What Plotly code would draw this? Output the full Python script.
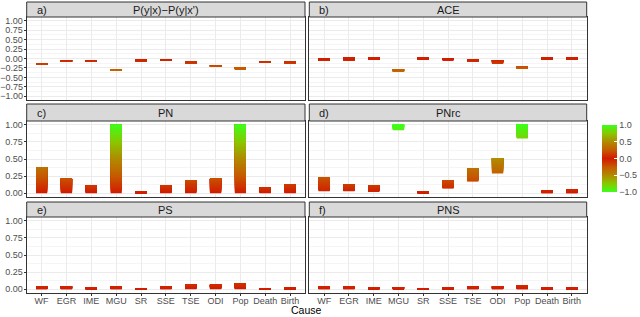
import plotly.graph_objects as go

causes = ["WF", "EGR", "IME", "MGU", "SR", "SSE", "TSE", "ODI", "Pop", "Death", "Birth"]

# Panel a) P(y|x)-P(y|x') : interval low / high
a_lo = [-0.17, -0.09, -0.09, -0.33, -0.07, -0.05, -0.13, -0.22, -0.28, -0.11, -0.13]
a_hi = [-0.13, -0.05, -0.05, -0.29, -0.03, -0.02, -0.09, -0.18, -0.24, -0.07, -0.09]
# Panel b) ACE
b_lo = [-0.06, -0.06, -0.04, -0.34, -0.03, -0.04, -0.08, -0.14, -0.26, -0.03, -0.03]
b_hi = [-0.01, 0.03, 0.02, -0.30, 0.02, 0.01, -0.03, -0.04, -0.21, 0.02, 0.02]
# Panel c) PN
c_lo = [0.0] * 11
c_hi = [0.38, 0.21, 0.11, 1.00, 0.03, 0.12, 0.19, 0.21, 1.00, 0.08, 0.13]
# Panel d) PNrc
d_lo = [0.03, 0.03, 0.02, 0.92, 0.00, 0.07, 0.17, 0.29, 0.80, 0.00, 0.00]
d_hi = [0.23, 0.13, 0.12, 1.00, 0.03, 0.19, 0.36, 0.51, 1.00, 0.04, 0.05]
# Panel e) PS
e_lo = [0.0] * 11
e_hi = [0.04, 0.04, 0.03, 0.04, 0.01, 0.04, 0.065, 0.065, 0.085, 0.01, 0.02]
# Panel f) PNS
f_lo = [0.0] * 11
f_hi = [0.04, 0.04, 0.03, 0.03, 0.01, 0.03, 0.04, 0.04, 0.06, 0.02, 0.02]

panel_tags = ["a)", "b)", "c)", "d)", "e)", "f)"]
panel_titles = ["P(y|x)\u2212P(y|x')", "ACE", "PN", "PNrc", "PS", "PNS"]
panels = [(a_lo, a_hi), (b_lo, b_hi), (c_lo, c_hi), (d_lo, d_hi), (e_lo, e_hi), (f_lo, f_hi)]

colorscale = [
    [0.0, "#3cff1a"], [0.125, "#88c800"], [0.25, "#b08a00"], [0.375, "#c65a00"],
    [0.5, "#d21a00"],
    [0.625, "#c65a00"], [0.75, "#b08a00"], [0.875, "#88c800"], [1.0, "#3cff1a"],
]

W, H = 640, 317
col_px = [(26.7, 305.0), (309.3, 586.7)]
row_px = [(17.0, 100.0), (121.0, 197.0), (217.0, 293.0)]
strip_px = [(2.0, 17.0), (104.0, 121.0), (202.0, 217.0)]

FONT = "Liberation Sans, Arial, sans-serif"
fig = go.Figure()
N = 40
layout = dict(
    width=W, height=H, margin=dict(l=0, r=0, t=0, b=0, autoexpand=False),
    paper_bgcolor="white", plot_bgcolor="white",
    barmode="overlay", showlegend=False,
    font=dict(family=FONT, color="#4d4d4d"),
    coloraxis=dict(
        colorscale=colorscale, cmin=-1, cmax=1,
        colorbar=dict(
            x=601.7 / W, xanchor="left", y=1 - 158.5 / H, yanchor="middle",
            thickness=15, thicknessmode="pixels", len=67, lenmode="pixels",
            xpad=0, ypad=0, outlinewidth=0,
            tickvals=[-1, -0.5, 0, 0.5, 1], ticktext=["\u22121.0", "\u22120.5", "0.0", "0.5", "1.0"],
            ticks="inside", ticklen=3, tickcolor="white",
            tickfont=dict(size=9, color="#4d4d4d", family=FONT),
        ),
    ),
)
shapes = []
annotations = []

for k, (lo, hi) in enumerate(panels):
    r, c = divmod(k, 2)
    idx = k + 1
    xs, bases, lens, cols = [], [], [], []
    for i, cat in enumerate(causes):
        l, h = lo[i], hi[i]
        d = (h - l) / N
        for s in range(N):
            b = l + s * d
            xs.append(cat)
            bases.append(b)
            lens.append(h - b)
            cols.append(b + d / 2)
    fig.add_trace(go.Bar(
        x=xs, y=lens, base=bases, width=0.45,
        marker=dict(color=cols, coloraxis="coloraxis", line=dict(width=0)),
        xaxis=f"x{idx}", yaxis=f"y{idx}", hoverinfo="skip",
    ))
    x0, x1 = col_px[c]
    y0, y1 = row_px[r]
    xa = dict(
        domain=[x0 / W, x1 / W], anchor=f"y{idx}",
        type="category", categoryorder="array", categoryarray=causes,
        range=[-0.6, 10.6], showgrid=True, gridcolor="#ebebeb", gridwidth=1,
        showline=True, mirror=True, linecolor="#333333", linewidth=1,
        zeroline=False,
        showticklabels=(r == 2), ticks="outside" if r == 2 else "", ticklen=2,
        ticklabelstandoff=-3,
        tickcolor="#333333", tickfont=dict(size=9, color="#4d4d4d", family=FONT),
    )
    if r == 0:
        yr = [-1.1, 1.1]
        tv = [-1 + 0.25 * j for j in range(9)]
    else:
        yr = [-0.055, 1.055]
        tv = [0.25 * j for j in range(5)]
    ya = dict(
        domain=[1 - y1 / H, 1 - y0 / H], anchor=f"x{idx}", range=yr,
        tickvals=tv, tickformat=".2f",
        showgrid=True, gridcolor="#ebebeb", gridwidth=1,
        minor=dict(showgrid=True, gridcolor="#f5f5f5", gridwidth=0.6, dtick=0.125, tick0=0),
        showline=True, mirror=True, linecolor="#333333", linewidth=1, zeroline=False,
        showticklabels=(c == 0), ticks="outside" if c == 0 else "", ticklen=2,
        ticklabelstandoff=-1,
        tickcolor="#333333", tickfont=dict(size=9, color="#4d4d4d", family=FONT),
    )
    layout[f"xaxis{idx if idx > 1 else ''}"] = xa
    layout[f"yaxis{idx if idx > 1 else ''}"] = ya
    sy0, sy1 = strip_px[r]
    shapes.append(dict(
        type="rect", xref="paper", yref="paper",
        x0=x0 / W, x1=x1 / W, y0=1 - sy1 / H, y1=1 - sy0 / H,
        fillcolor="#d9d9d9", line=dict(color="#333333", width=1), layer="above",
    ))
    ymid = 1 - (sy0 + sy1) / 2 / H
    annotations.append(dict(
        text=panel_tags[k], xref="paper", yref="paper", x=(x0 + 8) / W, y=ymid,
        xanchor="left", yanchor="middle", showarrow=False,
        font=dict(size=11, color="#1a1a1a", family=FONT),
    ))
    annotations.append(dict(
        text=panel_titles[k], xref="paper", yref="paper", x=(x0 + x1) / 2 / W, y=ymid,
        xanchor="center", yanchor="middle", showarrow=False,
        font=dict(size=11, color="#1a1a1a", family=FONT),
    ))

annotations.append(dict(
    text="Cause", xref="paper", yref="paper", x=(26.7 + 586.7) / 2 / W, y=0,
    xanchor="center", yanchor="bottom", showarrow=False, borderpad=0,
    font=dict(size=10.5, color="#000000", family=FONT),
))
layout["shapes"] = shapes
layout["annotations"] = annotations
fig.update_layout(**layout)
fig.write_html(
    "out.html",
    config={"displayModeBar": False},
    post_script="document.body.style.margin='0';document.body.style.padding='0';",
)
